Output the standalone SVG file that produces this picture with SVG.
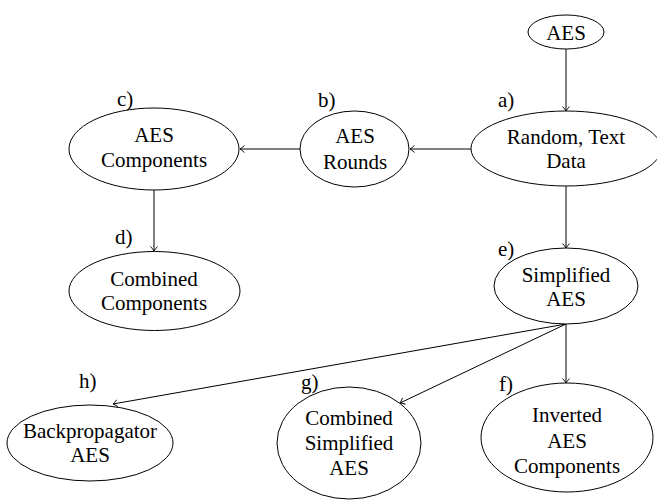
<svg xmlns="http://www.w3.org/2000/svg" width="657" height="502" viewBox="0 0 657 502">
<style>
.n ellipse{fill:#fff;stroke:#000;stroke-width:1}
text{font-family:"Liberation Serif","Times New Roman",serif;font-size:21px;fill:#000}
.t{text-anchor:middle}
.e line{stroke:#000;stroke-width:1;fill:none;marker-end:url(#arr)}
</style>
<defs>
<marker id="arr" markerUnits="userSpaceOnUse" markerWidth="10" markerHeight="10" viewBox="-6 -5 7 10" refX="0" refY="0" orient="auto">
<path d="M-4.5,-3.5 Q-1.5,-0.8 0,0 Q-1.5,0.8 -4.5,3.5" fill="none" stroke="#000" stroke-width="0.9"/>
</marker>
</defs>
<rect width="657" height="502" fill="#fff"/>
<g id="edges" class="e">
<line x1="566" y1="49" x2="566" y2="111"/>
<line x1="471" y1="149" x2="410" y2="149"/>
<line x1="300" y1="149" x2="240" y2="149"/>
<line x1="154" y1="190" x2="154" y2="251"/>
<line x1="566" y1="186" x2="566" y2="248"/>
<line x1="566" y1="324" x2="566" y2="383"/>
<line x1="566" y1="324" x2="400" y2="403"/>
<line x1="566" y1="324" x2="113" y2="404"/>
</g>
<g id="nAES" class="n">
<ellipse cx="566" cy="32" rx="38" ry="17"/>
<text class="t" x="566" y="39.5">AES</text>
</g>
<g id="na" class="n">
<ellipse cx="566" cy="148.5" rx="95" ry="37.5"/>
<text class="t" x="566" y="144">Random, Text</text>
<text class="t" x="566" y="168">Data</text>
<text x="498" y="107">a)</text>
</g>
<g id="nb" class="n">
<ellipse cx="354.5" cy="149" rx="54.5" ry="38"/>
<text class="t" x="355" y="143">AES</text>
<text class="t" x="355" y="169">Rounds</text>
<text x="318" y="107">b)</text>
</g>
<g id="nc" class="n">
<ellipse cx="154" cy="149" rx="85" ry="41"/>
<text class="t" x="154" y="142">AES</text>
<text class="t" x="154" y="167">Components</text>
<text x="117" y="106">c)</text>
</g>
<g id="nd" class="n">
<ellipse cx="154.5" cy="291" rx="85.5" ry="39.5"/>
<text class="t" x="154" y="285.5">Combined</text>
<text class="t" x="154" y="309.5">Components</text>
<text x="115" y="244">d)</text>
</g>
<g id="ne" class="n">
<ellipse cx="566" cy="286" rx="72" ry="38"/>
<text class="t" x="566" y="281.5">Simplified</text>
<text class="t" x="566" y="305.5">AES</text>
<text x="498" y="256">e)</text>
</g>
<g id="nf" class="n">
<ellipse cx="567" cy="437.5" rx="86" ry="54.5"/>
<text class="t" x="567" y="422">Inverted</text>
<text class="t" x="567" y="448">AES</text>
<text class="t" x="567" y="473">Components</text>
<text x="499" y="391">f)</text>
</g>
<g id="ng" class="n">
<ellipse cx="349" cy="443" rx="72" ry="56"/>
<text class="t" x="349" y="425">Combined</text>
<text class="t" x="349" y="450">Simplified</text>
<text class="t" x="349" y="475">AES</text>
<text x="301" y="389">g)</text>
</g>
<g id="nh" class="n">
<ellipse cx="90" cy="443" rx="83" ry="38"/>
<text class="t" x="90" y="438">Backpropagator</text>
<text class="t" x="90" y="462">AES</text>
<text x="79" y="388">h)</text>
</g>
</svg>
